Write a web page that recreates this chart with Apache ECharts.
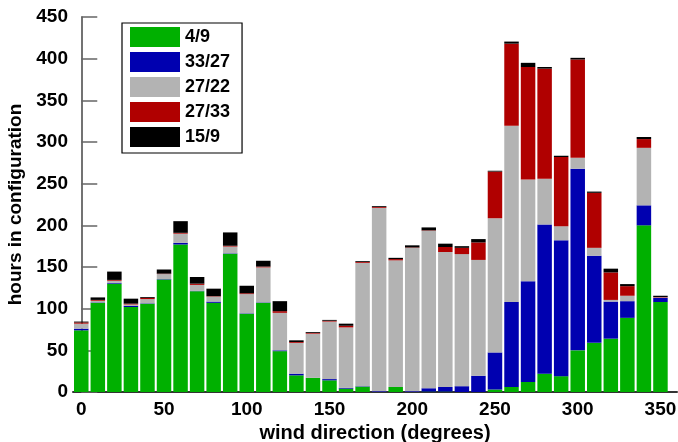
<!DOCTYPE html>
<html>
<head>
<meta charset="utf-8">
<script src="https://cdn.jsdelivr.net/npm/echarts@6/dist/echarts.min.js"></script>
<style>
  html, body { margin: 0; padding: 0; background: #fff; }
  #chart { width: 678px; height: 442px; }
</style>
</head>
<body>
<div id="chart"></div>
<script>
// Wind direction bins (degrees)
const directions = [0, 10, 20, 30, 40, 50, 60, 70, 80, 90, 100, 110, 120, 130, 140, 150, 160, 170,
                    180, 190, 200, 210, 220, 230, 240, 250, 260, 270, 280, 290, 300, 310, 320, 330, 340, 350];

// Hours spent in each runway configuration, per direction bin
const cfg4_9 = [74, 107, 130, 102, 106, 135, 177, 121, 107, 166, 94, 107, 49, 20, 17, 14, 4, 6.5,
                0, 6, 0, 0.5, 0.5, 0, 0, 3, 6, 12, 22, 19, 50, 59, 64, 89, 200, 108];
const cfg33_27 = [2, 0.5, 1, 1.5, 0.5, 0.5, 2, 0.5, 1.5, 0.5, 0.5, 0.5, 1, 2, 0, 1.5, 1, 0.5,
                  1, 0, 1, 4, 5.5, 7, 19.5, 44.5, 102, 121, 179, 163, 218, 104.5, 44.5, 20, 24, 5];
const cfg27_22 = [6, 2, 2.5, 1.5, 5, 6, 11, 7, 6, 8, 23, 42, 45, 37, 53, 69, 72.5, 148,
                  220, 152, 172, 189, 162, 158.5, 139, 161, 211.5, 122, 55, 17, 13, 9.5, 2, 6.5, 69, 0.5];
const cfg27_33 = [1.5, 1, 1, 1, 1.5, 0.5, 1, 1.5, 0.5, 1, 1, 1, 2, 1, 1, 1, 2, 1,
                  1, 1.5, 0.5, 0.5, 6, 7.5, 21, 56, 98.5, 135, 132, 83, 118, 66, 33, 11.5, 10.5, 0.5];
const cfg15_9 = [1, 3, 10, 6, 1, 5, 14, 8, 9, 16, 9, 7, 12, 2, 1, 1, 2.5, 1,
                 1, 1.5, 2.5, 3.5, 4, 2, 4, 1, 2.5, 5, 2, 1.5, 2, 1.5, 4.5, 2.5, 2.5, 1.5];

const seriesNames = ['4/9', '33/27', '27/22', '27/33', '15/9'];
const seriesValues = [cfg4_9, cfg33_27, cfg27_22, cfg27_33, cfg15_9];
const seriesColors = ['#00b000', '#0000b0', '#b3b3b3', '#b00000', '#000000'];

const xTicks = [0, 50, 100, 150, 200, 250, 300, 350];

const FONT = 'Liberation Sans, Arial, Helvetica, sans-serif';

const chart = echarts.init(document.getElementById('chart'), null, { renderer: 'canvas' });

// Items are [hours, direction] so that the hours dimension is the one stacked;
// encode maps them back onto the y and x axes.
const series = seriesNames.map((name, i) => ({
  name: name,
  type: 'bar',
  stack: 'hours',
  barWidth: 14.5,
  encode: { x: 1, y: 0 },
  itemStyle: { color: seriesColors[i] },
  emphasis: { disabled: true },
  data: directions.map((d, j) => [seriesValues[i][j], d])
}));

chart.setOption({
  animation: false,
  backgroundColor: '#ffffff',
  grid: { left: 73, right: 1, top: 17, bottom: 50, containLabel: false, outerBoundsMode: 'none' },
  legend: {
    data: seriesNames,
    orient: 'vertical',
    left: 122,
    top: 23,
    itemWidth: 50,
    itemHeight: 20,
    itemGap: 5,
    padding: [4, 12, 6, 8],
    borderColor: '#000',
    borderWidth: 1.2,
    backgroundColor: '#fff',
    icon: 'rect',
    selectedMode: false,
    textStyle: { fontFamily: FONT, fontWeight: 'bold', fontSize: 18, color: '#000', padding: [0, 0, 0, 0] }
  },
  xAxis: {
    type: 'value',
    min: -5,
    max: 360,
    name: 'wind direction (degrees)',
    nameLocation: 'middle',
    nameGap: 30,
    nameTextStyle: { fontFamily: FONT, fontWeight: 'bold', fontSize: 20, color: '#000' },
    axisLine: { show: true, lineStyle: { color: '#333', width: 2 } },
    axisTick: { show: false },
    splitLine: { show: false },
    axisLabel: {
      customValues: xTicks,
      margin: 8,
      fontFamily: FONT, fontWeight: 'bold', fontSize: 19, color: '#000'
    }
  },
  yAxis: {
    type: 'value',
    min: 0,
    max: 450,
    interval: 50,
    name: 'hours in configuration',
    nameLocation: 'middle',
    nameGap: 47,
    nameTextStyle: { fontFamily: FONT, fontWeight: 'bold', fontSize: 19, color: '#000' },
    axisLine: { show: true, lineStyle: { color: '#444', width: 1.5 } },
    axisTick: { show: true, inside: true, length: 16, lineStyle: { color: '#666', width: 1.5 } },
    splitLine: { show: false },
    axisLabel: { margin: 5, fontFamily: FONT, fontWeight: 'bold', fontSize: 19, color: '#000' }
  },
  series: series
});
</script>
</body>
</html>
